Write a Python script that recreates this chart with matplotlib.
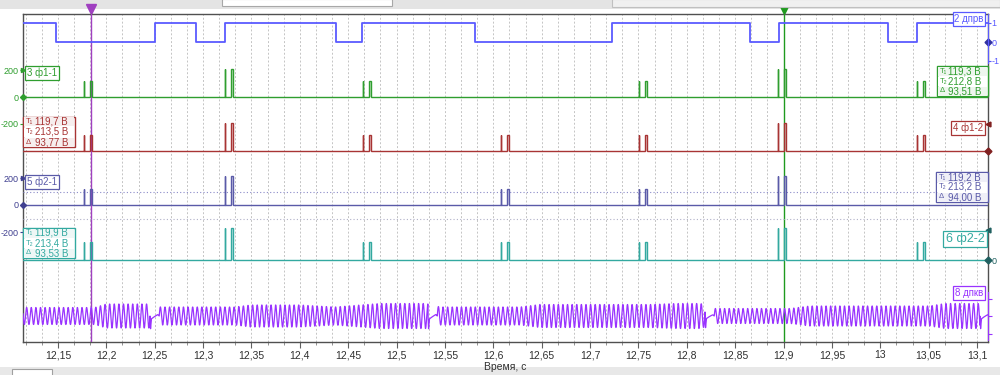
import numpy as np
import matplotlib
matplotlib.use("Agg")
import matplotlib.pyplot as plt
from matplotlib.patches import Rectangle
from matplotlib.ticker import MultipleLocator

plt.rcParams['font.family'] = ['Liberation Sans', 'DejaVu Sans']

# ------------------------------------------------------------------ data
x_ticks = [12.15, 12.20, 12.25, 12.30, 12.35, 12.40, 12.45, 12.50, 12.55, 12.60,
           12.65, 12.70, 12.75, 12.80, 12.85, 12.90, 12.95, 13.00, 13.05, 13.10]
x_tick_labels = ['12,15', '12,2', '12,25', '12,3', '12,35', '12,4', '12,45', '12,5',
                 '12,55', '12,6', '12,65', '12,7', '12,75', '12,8', '12,85', '12,9',
                 '12,95', '13', '13,05', '13,1']
x_label = 'Время, с'

# channel 2 (cam sensor, digital): edge times and levels (level before first edge, then after each edge)
cam_edge_times = [12.1479, 12.2503, 12.2927, 12.3226, 12.4374, 12.4642,
                  12.5811, 12.7227, 12.8653, 12.8953, 13.0080, 13.0380]
cam_levels = [1, 0, 1, 0, 1, 0, 1, 0, 1, 0, 1, 0, 1]

# injector channels: start time of each injection event and peak voltage (V)
ph11_times = [12.1766, 12.3226, 12.4653, 12.7506, 12.8943, 13.0380]
ph11_volts = [120, 213, 120, 120, 213, 120]
ph12_times = [12.1766, 12.3226, 12.4653, 12.6079, 12.7506, 12.8943, 13.0380]
ph12_volts = [120, 213, 120, 120, 120, 213, 120]
ph21_times = [12.1766, 12.3226, 12.6079, 12.7506, 12.8943]
ph21_volts = [120, 213, 120, 120, 213]
ph22_times = [12.1766, 12.3226, 12.4653, 12.6079, 12.7506, 12.8943, 13.0380]
ph22_volts = [120, 213, 120, 120, 120, 213, 120]

# channel 8 (crank sensor): missing-tooth gap start times and amplitude envelope (V)
crank_gap_starts = [12.2451, 12.5325, 12.8188, 13.1031]
crank_env_t = [12.114, 12.188, 12.200, 12.244, 12.256, 12.333, 12.349, 12.400,
               12.436, 12.483, 12.530, 12.545, 12.628, 12.648, 12.762, 12.790,
               12.814, 12.829, 12.907, 12.927, 13.051, 13.067, 13.101, 13.112]
crank_env_a = [0.85, 0.85, 1.2, 1.2, 0.9, 0.9, 1.1, 1.1, 0.9, 1.25, 1.25, 0.9,
               0.9, 1.15, 1.15, 1.25, 1.25, 0.75, 0.75, 1.0, 1.0, 1.25, 1.25, 0.9]

cursor_times = [12.1841, 12.9005]

readout_icons = ['T₁', 'T₂', 'Δ']
readout_ph11 = ['119,3 В', '212,8 В', '93,51 В']
readout_ph12 = ['119,7 В', '213,5 В', '93,77 В']
readout_ph21 = ['119,2 В', '213,2 В', '94,00 В']
readout_ph22 = ['119,9 В', '213,4 В', '93,53 В']

chan_names = ['2 дпрв', '3 ф1-1', '4 ф1-2', '5 ф2-1', '6 ф2-2', '8 дпкв']

# ------------------------------------------------------------------ layout / style
W, H = 1000, 375
PL, PR, PT, PB = 23, 988, 14, 342
X0_PX, PX_PER_TICK = 58, 48.37

C_CAM = '#5a5aff'
C_G = '#2f9e2f'
C_R = '#a83434'
C_B = '#5a5aa8'
C_T = '#33a9a0'
C_P = '#9933ff'
C_CUR1 = '#a040c0'
C_CUR2 = '#1f9a1f'

fig = plt.figure(figsize=(W / 100, H / 100), dpi=100)
fig.patch.set_facecolor('white')


def fx(px):
    return px / W


def fy(py):
    return 1 - py / H


pos = [fx(PL), fy(PB), (PR - PL) / W, (PB - PT) / H]
t_per_px = 0.05 / PX_PER_TICK
t_left = x_ticks[0] - (X0_PX - PL) * t_per_px
t_right = x_ticks[0] + (PR - X0_PX) * t_per_px

# main axes: grid, time axis, frame
ax0 = fig.add_axes(pos)
ax0.set_xlim(t_left, t_right)
ax0.set_ylim(0, 1)
ax0.set_yticks([])
ax0.set_xticks(x_ticks)
ax0.set_xticklabels(x_tick_labels, fontsize=7.5, color='#303030')
ax0.xaxis.set_minor_locator(MultipleLocator(1 / 60))
ax0.grid(True, which='both', axis='x', color='#c4c4c4', linestyle=(0, (2, 2)), lw=0.7)
ax0.tick_params(axis='x', which='major', length=4, pad=2, color='#606060')
ax0.tick_params(axis='x', which='minor', length=2, color='#808080')
ax0.set_xlabel(x_label, fontsize=7.5, labelpad=1, color='#303030')
for s in ax0.spines.values():
    s.set_color('#505050')
    s.set_linewidth(1)


def chan_ax(zero_px, px_per_unit):
    a = fig.add_axes(pos)
    a.set_xlim(t_left, t_right)
    a.set_ylim(-(PB - zero_px) / px_per_unit, (zero_px - PT) / px_per_unit)
    a.patch.set_visible(False)
    for s in a.spines.values():
        s.set_visible(False)
    a.xaxis.set_visible(False)
    a.set_yticks([])
    return a


def pulse_trace(times, volts):
    xs, ys = [t_left], [0.0]
    for t, v in zip(times, volts):
        for start, width in ((t, 0.0004), (t + 0.0062, 0.0022)):
            xs += [start, start, start + width, start + width]
            ys += [0, v, v, 0]
    xs.append(t_right)
    ys.append(0.0)
    return xs, ys


def draw_pulses(a, times, volts, color):
    xs, ys = pulse_trace(times, volts)
    a.plot(xs, ys, color=color, lw=1.0, solid_joinstyle='miter')
    for t, v in zip(times, volts):
        a.fill_between([t + 0.0062, t + 0.0084], 0, v, color=color, alpha=0.25, lw=0)


def left_scale(a, color):
    a.set_yticks([200, 0, -200])
    a.set_yticklabels(['200', '0', '-200'], fontsize=6.5, color=color)
    a.tick_params(axis='y', length=2, pad=1, color=color, direction='out')
    a.plot([0.0], [0], marker='D', ms=3, color=color, transform=a.get_yaxis_transform(), clip_on=False)
    a.plot([0.0], [200], marker='>', ms=3, color=color, transform=a.get_yaxis_transform(), clip_on=False)


# channel 2 -- cam digital
a2 = chan_ax(42, 19)
a2.step([t_left] + cam_edge_times + [t_right], cam_levels + [cam_levels[-1]],
        where='post', color=C_CAM, lw=1.3)
a2.yaxis.tick_right()
a2.set_yticks([1, 0, -1])
a2.set_yticklabels(['1', '0', '-1'], fontsize=6.5, color=C_CAM)
a2.tick_params(axis='y', length=2, pad=0.5, color=C_CAM)
a2.spines['right'].set_visible(True)
a2.spines['right'].set_color(C_CAM)
a2.spines['right'].set_bounds(-1.1, 1.45)
a2.plot([1.0], [0], marker='D', ms=3.5, color='#3030a0', transform=a2.get_yaxis_transform(), clip_on=False)

# channel 3 -- ф1-1
a3 = chan_ax(97, 26.7 / 200)
draw_pulses(a3, ph11_times, ph11_volts, C_G)
left_scale(a3, C_G)

# channel 4 -- ф1-2
a4 = chan_ax(151, 26.7 / 200)
draw_pulses(a4, ph12_times, ph12_volts, C_R)
a4.plot([1.0], [0], marker='D', ms=3.5, color='#802020', transform=a4.get_yaxis_transform(), clip_on=False)
a4.plot([1.0], [200], marker='<', ms=3.5, color='#802020', transform=a4.get_yaxis_transform(), clip_on=False)

# channel 5 -- ф2-1
a5 = chan_ax(205, 27 / 200)
a5.axhline(100, color='#8a8ac8', lw=0.8, linestyle=(0, (1, 2)))
a5.axhline(-100, color='#b0b0c8', lw=0.8, linestyle=(0, (1, 2)))
draw_pulses(a5, ph21_times, ph21_volts, C_B)
left_scale(a5, '#404090')

# channel 6 -- ф2-2
a6 = chan_ax(260, 30 / 200)
draw_pulses(a6, ph22_times, ph22_volts, C_T)
a6.yaxis.tick_right()
a6.set_yticks([0])
a6.set_yticklabels(['0'], fontsize=6.5, color='#206060')
a6.tick_params(axis='y', length=2, pad=0.5, color=C_T)
a6.plot([1.0], [0], marker='D', ms=3.5, color='#206060', transform=a6.get_yaxis_transform(), clip_on=False)
a6.plot([1.0], [200], marker='<', ms=3.5, color='#206060', transform=a6.get_yaxis_transform(), clip_on=False)

# channel 8 -- crank sensor
a8 = chan_ax(316, 10)
T = np.mean(np.diff(crank_gap_starts)) / 60.0
tt = np.linspace(t_left, t_right, 40000)
amp = np.interp(tt, crank_env_t, crank_env_a)
gaps = np.array(crank_gap_starts)
idx = np.searchsorted(gaps, tt, side='right') - 1
sig = np.empty_like(tt)
before = idx < 0
sig[before] = np.sin(2 * np.pi * ((tt[before] - gaps[0]) / T % 1.0))
after = ~before
g = gaps[np.clip(idx, 0, None)][after]
dt = tt[after] - g
in_gap = dt < 2 * T
u = dt / (2 * T)
vals = np.sin(2 * np.pi * (((dt - 2 * T) / T) % 1.0))
vals[in_gap] = np.interp(u[in_gap], [0, 0.06, 0.15, 0.85, 1.0], [0, -1.1, -0.25, 0.15, 0])
sig[after] = vals
a8.plot(tt, sig * amp, color=C_P, lw=0.9)
a8.yaxis.tick_right()
a8.set_yticks([1.75, 0, -1.75])
a8.set_yticklabels(['', '', ''])
a8.tick_params(axis='y', length=3, color=C_P)
a8.spines['right'].set_visible(True)
a8.spines['right'].set_color(C_P)
a8.spines['right'].set_bounds(-2.4, 2.4)

# cursors
for t, c in zip(cursor_times, [C_CUR1, C_CUR2]):
    ax0.axvline(t, color=c, lw=1.0, zorder=5)
    ax0.plot([t], [(PB - 9) / (PB - PT)], marker='v', ms=7, color=c,
             transform=ax0.get_xaxis_transform(), clip_on=False)


# ------------------------------------------------------------------ annotation boxes
def px_rect(x0, y0, x1, y1, **kw):
    fig.add_artist(Rectangle((fx(x0), fy(y1)), (x1 - x0) / W, (y1 - y0) / H,
                             transform=fig.transFigure, **kw))


def readout(x0, y0, x1, y1, color, tint, values):
    px_rect(x0, y0, x1, y1, fc='white', ec=color, lw=1.0, zorder=10)
    rh = (y1 - y0) / len(values)
    for i, (ic, v) in enumerate(zip(readout_icons, values)):
        ry0 = y0 + i * rh
        px_rect(x0 + 1, ry0 + 0.5, x1 - 1, ry0 + rh - 0.5,
                fc=tint if i % 2 == 0 else 'white', ec='none', zorder=10)
        fig.text(fx(x0 + 3), fy(ry0 + rh / 2), ic, fontsize=5.5, color=color,
                 va='center', ha='left', zorder=11)
        fig.text(fx(x1 - 7), fy(ry0 + rh / 2), v, fontsize=7, color=color,
                 va='center', ha='right', zorder=11)


def chan_label(xc, yc, text, color, fs=7):
    fig.text(fx(xc), fy(yc), text, fontsize=fs, color=color, ha='center', va='center',
             bbox=dict(boxstyle='square,pad=0.18', fc='white', ec=color, lw=0.9), zorder=12)


readout(23, 117, 75, 147, C_R, '#f6eeee', readout_ph12)
readout(23, 228, 75, 258, C_T, '#eef7f6', readout_ph22)
readout(937, 66, 988, 96, C_G, '#eef6ee', readout_ph11)
readout(936, 172, 988, 202, C_B, '#efeff7', readout_ph21)

chan_label(969, 19, chan_names[0], C_CAM)
chan_label(42, 73, chan_names[1], C_G)
chan_label(968, 128, chan_names[2], C_R)
chan_label(42, 182, chan_names[3], C_B)
chan_label(965, 239, chan_names[4], C_T, fs=9)
chan_label(969, 293, chan_names[5], C_P)

# toolbars
px_rect(0, 0, 1000, 9, fc='#e4e4e4', ec='none', zorder=0)
px_rect(222, -1, 392, 6, fc='white', ec='#a8a8a8', lw=0.8, zorder=1)
px_rect(612, -1, 1000, 7, fc='#f0f0f0', ec='#c0c0c0', lw=0.8, zorder=1)
px_rect(0, 367, 1000, 376, fc='#e8e8e8', ec='none', zorder=0)
px_rect(12, 369, 52, 376, fc='white', ec='#a0a0a0', lw=0.8, zorder=1)

fig.savefig('out.png', dpi=100, facecolor='white')
